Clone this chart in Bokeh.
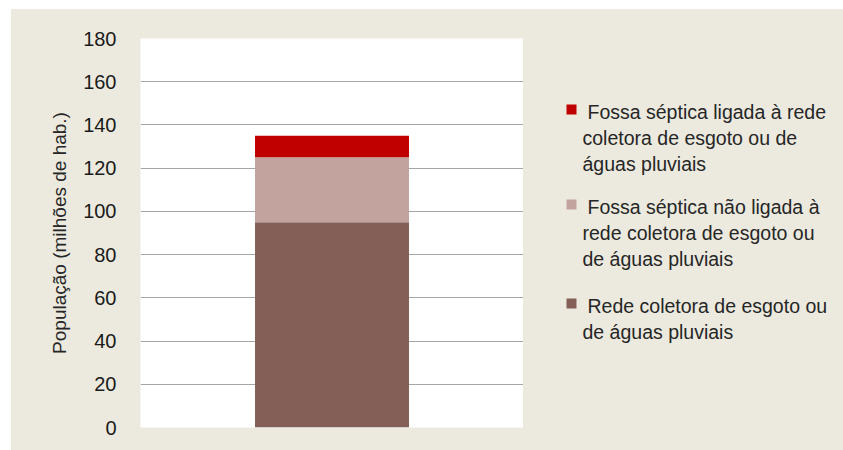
from bokeh.plotting import figure
from bokeh.models import Range1d, Spacer, ColumnDataSource
from bokeh.layouts import row, column
from bokeh.embed import file_html
from bokeh.resources import INLINE
from bokeh.core.properties import value

# ---- data ----
categories = ["Brasil"]
rede = [95]            # Rede coletora de esgoto ou de águas pluviais
fossa_nao = [30]       # Fossa séptica não ligada à rede coletora
fossa_ligada = [10]    # Fossa séptica ligada à rede coletora
y_ticks = [0, 20, 40, 60, 80, 100, 120, 140, 160, 180]
series_names = [
    ["Fossa séptica ligada à rede", "coletora de esgoto ou de", "águas pluviais"],
    ["Fossa séptica não ligada à", "rede coletora de esgoto ou", "de águas pluviais"],
    ["Rede coletora de esgoto ou", "de águas pluviais"],
]
series_colors = ["#C00000", "#C3A39E", "#845F57"]
y_label = "População (milhões de hab.)"

BEIGE = "#ECEADF"
FONT = "Liberation Sans"
TOP, BOTTOM = 29, 23
H = 441

# ---- main chart ----
p = figure(width=512, height=H, output_backend="svg", toolbar_location=None,
           x_range=Range1d(0, 1), y_range=Range1d(0, 180),
           min_border_left=129, min_border_top=TOP, min_border_bottom=BOTTOM,
           min_border_right=0)
p.border_fill_color = BEIGE
p.background_fill_color = "white"
p.outline_line_color = None

src = ColumnDataSource(dict(x=[0.5], rede=rede, fossa_nao=fossa_nao, fossa_ligada=fossa_ligada))
stack_keys = ["rede", "fossa_nao", "fossa_ligada"]
stack_colors = [series_colors[2], series_colors[1], series_colors[0]]
p.vbar_stack(stack_keys, x="x", width=0.402, source=src, color=stack_colors,
             line_color=None)

p.xaxis.visible = False
p.xgrid.grid_line_color = None
p.ygrid.grid_line_color = "#A6A6A6"
p.ygrid.grid_line_width = 1
p.yaxis.ticker = y_ticks
p.yaxis.axis_line_color = None
p.yaxis.major_tick_line_color = None
p.yaxis.minor_tick_line_color = None
p.yaxis.major_tick_out = 0
p.yaxis.major_label_standoff = 24
p.yaxis.major_label_text_font = FONT
p.yaxis.major_label_text_font_size = "20px"
p.yaxis.major_label_text_color = "#1A1A1A"
p.yaxis.axis_label = y_label
p.yaxis.axis_label_text_font = FONT
p.yaxis.axis_label_text_font_size = "19px"
p.yaxis.axis_label_text_font_style = "normal"
p.yaxis.axis_label_text_color = "#262626"
p.yaxis.axis_label_standoff = 10

# ---- legend panel (frame aligned with the chart frame; units = pixels) ----
LW = 320
FH = H - TOP - BOTTOM
lg = figure(width=LW, height=H, output_backend="svg", toolbar_location=None,
            x_range=Range1d(0, LW), y_range=Range1d(FH, 0),
            min_border_left=0, min_border_right=0,
            min_border_top=TOP, min_border_bottom=BOTTOM)
lg.axis.visible = False
lg.grid.visible = False
lg.outline_line_color = None
lg.border_fill_color = BEIGE
lg.background_fill_color = BEIGE

first_baselines = [73, 168, 267]
square_y = [71, 166, 265]
line_step = 26
tx, ty, tt = [], [], []
sx = []
for names, b in zip(series_names, first_baselines):
    sx.append(48)
    for i, line in enumerate(names):
        tx.append(64 if i == 0 else 59)
        ty.append(b + i * line_step)
        tt.append(line)

lg.scatter(x=sx, y=square_y, marker="square", size=10, color=series_colors, line_color=None)
lg.text(x=tx, y=ty, text=tt, text_font=value(FONT), text_font_size="19.5px",
        text_baseline="alphabetic", text_align="left", text_color="#262626")

panel = row(p, lg, styles={"background-color": BEIGE})
layout = column(Spacer(height=9), row(Spacer(width=11), panel))
open("out.html", "w").write(file_html(layout, INLINE))
